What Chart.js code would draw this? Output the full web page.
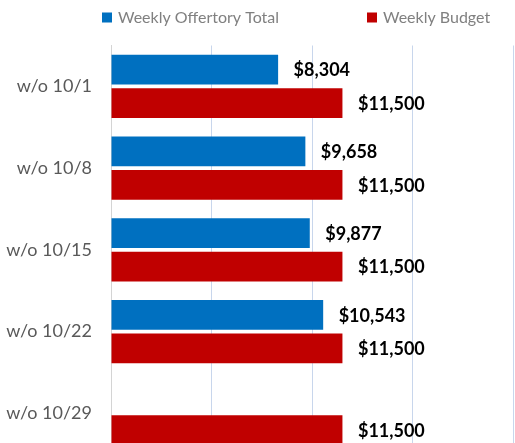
<!DOCTYPE html>
<html>
<head>
<meta charset="utf-8">
<script src="https://cdn.jsdelivr.net/npm/chart.js@4"></script>
<style>
  html, body { margin: 0; padding: 0; background: #fff; overflow: hidden; }
  canvas { display: block; }
</style>
</head>
<body>
<!-- taller than the window on purpose: the original picture is cut off at the bottom -->
<canvas id="offertoryChart" width="515" height="484"></canvas>
<script>
var weeks = ['w/o 10/1', 'w/o 10/8', 'w/o 10/15', 'w/o 10/22', 'w/o 10/29'];
var offertory = [8304, 9658, 9877, 10543, null];
var budget = [11500, 11500, 11500, 11500, 11500];
var seriesNames = ['Weekly Offertory Total', 'Weekly Budget'];

// dollar labels at the end of each bar
const valueLabels = {
    id: 'valueLabels',
    afterDatasetsDraw(chart) {
        const ctx = chart.ctx;
        ctx.save();
        ctx.font = 'bold 18px Lato';
        ctx.fillStyle = '#000';
        ctx.textAlign = 'left';
        ctx.textBaseline = 'middle';
        chart.data.datasets.forEach((ds, i) => {
            chart.getDatasetMeta(i).data.forEach((bar, j) => {
                const v = ds.data[j];
                if (v == null) return;
                ctx.fillText('$' + v.toLocaleString('en-US'), bar.x + 15.5, bar.y + 1);
            });
        });
        ctx.restore();
    }
};

// legend spread out like the original sheet chart
const topLegend = {
    id: 'topLegend',
    afterDraw(chart) {
        const ctx = chart.ctx;
        const starts = [102, 367];
        ctx.save();
        ctx.font = '16px Lato';
        ctx.textBaseline = 'middle';
        chart.data.datasets.forEach((ds, i) => {
            ctx.fillStyle = ds.backgroundColor;
            ctx.fillRect(starts[i], 12.5, 10, 10);
            ctx.fillStyle = '#808080';
            ctx.fillText(ds.label, starts[i] + 16, 17.5);
        });
        ctx.restore();
    }
};

const data = {
    labels: weeks,
    datasets: [
        { label: seriesNames[0], data: offertory, backgroundColor: '#0070C0' },
        { label: seriesNames[1], data: budget, backgroundColor: '#C00000' }
    ]
};

const config = {
    type: 'bar',
    data: data,
    options: {
        indexAxis: 'y',
        responsive: false,
        animation: false,
        categoryPercentage: 0.82,
        barPercentage: 0.885,
        layout: { padding: { top: 45.5, right: 1.5, bottom: 0, left: 0 } },
        plugins: {
            legend: { display: false },
            tooltip: { enabled: false }
        },
        scales: {
            x: {
                min: 0,
                max: 20000,
                ticks: { display: false, stepSize: 5000 },
                grid: {
                    drawTicks: false,
                    color: (c) => c.tick && c.tick.value === 0 ? 'rgba(0,0,0,0)' : '#c8d6ec'
                },
                border: { display: false },
                afterFit: (s) => { s.height = 0; }
            },
            y: {
                ticks: {
                    font: { family: 'Lato', size: 18 },
                    color: '#595959',
                    padding: 19
                },
                grid: { display: false, drawTicks: false },
                border: { color: '#d4d4d4', width: 1 },
                afterFit: (s) => { s.width = 111; }
            }
        }
    },
    plugins: [valueLabels, topLegend]
};

const offertoryChart = new Chart(document.getElementById('offertoryChart'), config);
</script>
</body>
</html>
